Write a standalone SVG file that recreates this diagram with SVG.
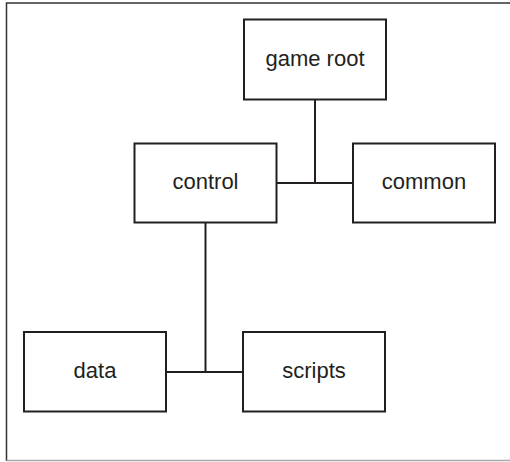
<svg xmlns="http://www.w3.org/2000/svg" width="510" height="462" viewBox="0 0 510 462">
<style>
.box{fill:#fff;stroke:#231f20;stroke-width:2}
.lbl{font-family:"Liberation Sans",Arial,sans-serif;font-size:22px;fill:#231f20;text-anchor:middle}
.con{fill:none;stroke:#231f20;stroke-width:2}
</style>
<rect x="0" y="0" width="510" height="462" fill="#fff"/>
<path d="M6.5,461 V3 H510" fill="none" stroke="#333" stroke-width="1.5"/>
<path d="M6.5,460.5 H510" fill="none" stroke="#aaa" stroke-width="1.5"/>
<g id="connectors">
<path class="con" d="M315,99 V183 M276,183 H353"/>
<path class="con" d="M205.5,223 V372 M166,372 H243"/>
</g>
<g id="game-root"><rect class="box" x="244" y="19.5" width="142" height="80"/><text class="lbl" x="315" y="65.5">game root</text></g>
<g id="control"><rect class="box" x="134.5" y="143.5" width="142" height="79"/><text class="lbl" x="205.5" y="189">control</text></g>
<g id="common"><rect class="box" x="353" y="143.5" width="142" height="79"/><text class="lbl" x="424" y="189">common</text></g>
<g id="data"><rect class="box" x="24" y="332" width="142" height="79.5"/><text class="lbl" x="95" y="378">data</text></g>
<g id="scripts"><rect class="box" x="243" y="332" width="142" height="79.5"/><text class="lbl" x="314" y="378">scripts</text></g>
</svg>
